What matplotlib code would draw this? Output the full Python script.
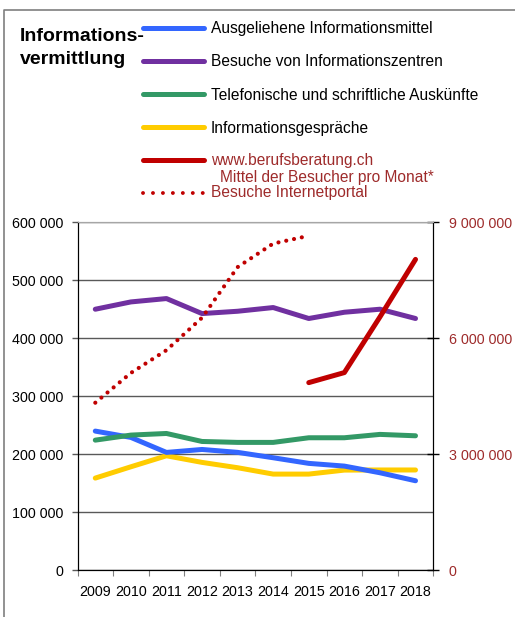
import matplotlib
matplotlib.use("Agg")
import matplotlib.pyplot as plt
from matplotlib.lines import Line2D
from matplotlib.ticker import FuncFormatter

plt.rcParams['font.family'] = ['Liberation Sans', 'DejaVu Sans']

# Daten
jahre = ['2009', '2010', '2011', '2012', '2013', '2014', '2015', '2016', '2017', '2018']
ausgeliehen = [239700, 228800, 202900, 208000, 203000, 193700, 184000, 179300, 167800, 154000]
besuche_zentren = [450000, 462600, 468400, 442500, 446500, 452900, 434000, 444800, 450000, 434000]
telefonisch = [224100, 232800, 235600, 221800, 220200, 220200, 228200, 228200, 234000, 231600]
gespraeche = [158600, 178100, 197100, 185700, 176500, 165500, 165500, 172400, 172600, 172600]
# rechte Achse
portal_jahre = ['2009', '2010', '2011', '2012', '2013', '2014', '2015']
portal_besuche = [4330000, 5100000, 5690000, 6530000, 7840000, 8450000, 8650000]
web_jahre = ['2015', '2016', '2017', '2018']
web_mittel = [4850000, 5110000, 6550000, 8040000]

legende = ['Ausgeliehene Informationsmittel',
           'Besuche von Informationszentren',
           'Telefonische und schriftliche Auskünfte',
           'Informationsgespräche']

blau = '#3366FF'
lila = '#7030A0'
gruen = '#339966'
gelb = '#FFCC00'
rot = '#C00000'
rot_text = '#9E2B2B'

W, H = 515, 617
fig = plt.figure(figsize=(W / 100, H / 100), dpi=100)

ax = fig.add_axes([77.5 / W, 1 - 570 / H, (433.3 - 77.5) / W, (570 - 222.3) / H])
ax2 = ax.twinx()

x = list(range(len(jahre)))
lw = 3.6
ax.plot(x, ausgeliehen, color=blau, lw=lw, solid_capstyle='round', zorder=3)
ax.plot(x, besuche_zentren, color=lila, lw=lw, solid_capstyle='round', zorder=3)
ax.plot(x, telefonisch, color=gruen, lw=lw, solid_capstyle='round', zorder=3)
ax.plot(x, gespraeche, color=gelb, lw=lw, solid_capstyle='round', zorder=2)

xp = [jahre.index(j) for j in portal_jahre]
xw = [jahre.index(j) for j in web_jahre]
ax2.plot(xp, portal_besuche, color=rot, lw=3, linestyle=(0, (0.01, 1.9)),
         dash_capstyle='round')
ax2.plot(xw, web_mittel, color=rot, lw=lw, solid_capstyle='round')

# Achsen
ax.set_xlim(-0.5, len(jahre) - 0.5)
ax.set_ylim(0, 600000)
ax.set_yticks(range(0, 600001, 100000))
fmt = FuncFormatter(lambda v, p: f'{int(v):,}'.replace(',', ' '))
ax.yaxis.set_major_formatter(fmt)
ax.grid(axis='y', color='#595959', lw=1)
ax.set_axisbelow(True)
ax.tick_params(axis='y', direction='out', length=4, width=1, pad=6.5,
               labelsize=10.3, color='#595959')

ax.set_xticks([i - 0.5 for i in range(len(jahre) + 1)])
ax.set_xticklabels([])
ax.set_xticks(x, minor=True)
ax.set_xticklabels(jahre, minor=True, fontsize=10.3)
ax.tick_params(axis='x', which='major', direction='out', length=4, color='#808080')
ax.tick_params(axis='x', which='minor', length=0, pad=10.5)

ax2.set_ylim(0, 9000000)
ax2.set_yticks(range(0, 9000001, 3000000))
ax2.yaxis.set_major_formatter(fmt)
ax2.tick_params(axis='y', direction='inout', length=8, width=1, pad=7,
                labelsize=10.3, labelcolor=rot_text)

for a in (ax, ax2):
    a.spines['top'].set_color('#A6A6A6')
    a.spines['left'].set_color('black')
    a.spines['right'].set_color('black')
    a.spines['bottom'].set_color('black')

# Titel
fig.text(20 / W, 1 - 48 / H, 'Informations-\nvermittlung', fontsize=14,
         fontweight='bold', va='center', ha='left', linespacing=1.45)

# Legende (von Hand)
farben = [blau, lila, gruen, gelb]
ypos = [28, 61, 94, 127]
for f, t, yy in zip(farben, legende, ypos):
    fig.add_artist(Line2D([143 / W, 204 / W], [1 - yy / H, 1 - yy / H], color=f, lw=3.6,
                          solid_capstyle='round'))
    fig.text(211 / W, 1 - (yy + 1) / H, t, fontsize=11.2, va='center', ha='left')

fig.add_artist(Line2D([143 / W, 204 / W], [1 - 160 / H, 1 - 160 / H], color=rot, lw=3.6,
                      solid_capstyle='round'))
fig.text(211 / W, 1 - 160 / H, 'www.berufsberatung.ch', fontsize=11.2, va='center',
         ha='left', color=rot_text)
fig.text(220 / W, 1 - 178 / H, 'Mittel der Besucher pro Monat*', fontsize=11.2,
         va='center', ha='left', color=rot_text)
fig.add_artist(Line2D([143 / W, 204 / W], [1 - 193 / H, 1 - 193 / H], color=rot, lw=2.8,
                      linestyle=(0, (0.01, 2.55)), dash_capstyle='round'))
fig.text(211 / W, 1 - 193 / H, 'Besuche Internetportal', fontsize=11.2, va='center',
         ha='left', color=rot_text)

# Rahmen
fig.add_artist(Line2D([4 / W, 4 / W, 1.0], [0, 1 - 10 / H, 1 - 10 / H],
                      color='#7F7F7F', lw=1.2))

fig.savefig('out.png', dpi=100)
